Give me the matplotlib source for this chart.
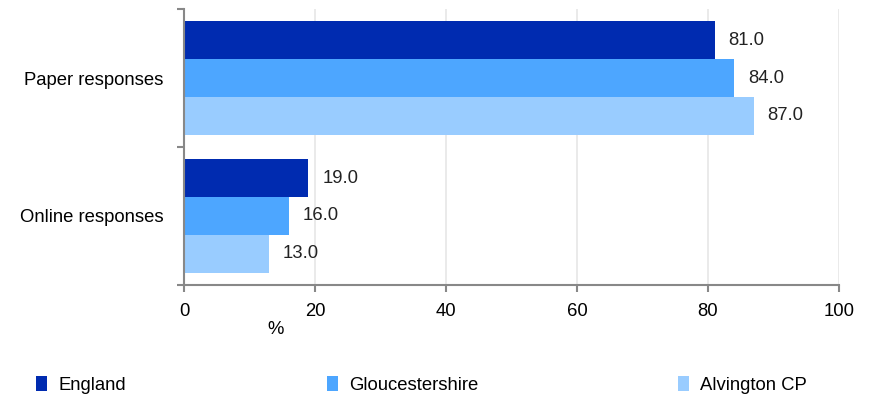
import numpy as np
import matplotlib.pyplot as plt
import matplotlib.ticker as ticker

plt.rcParams['font.family'] = ['Liberation Sans', 'DejaVu Sans']

categories = ['Online responses', 'Paper responses']
series = ['England', 'Gloucestershire', 'Alvington CP']
england = [19.0, 81.0]
gloucestershire = [16.0, 84.0]
alvington = [13.0, 87.0]
colors = ['#002BB0', '#4DA6FF', '#99CCFF']

fs = 13.3
fig = plt.figure(figsize=(8.74, 3.95), dpi=100)
ax = fig.add_axes([0.2105, 0.2785, 0.7494, 0.6987])

y = np.arange(len(categories))
h = 0.273
for i, (name, vals, col) in enumerate(zip(series, [england, gloucestershire, alvington], colors)):
    pos = y + h - i * h
    bars = ax.barh(pos, vals, height=h, color=col, label=name, zorder=2)
    for b, v in zip(bars, vals):
        ax.annotate(f'{v:.1f}', (b.get_width(), b.get_y() + b.get_height() / 2),
                    xytext=(10, 0), textcoords='offset points',
                    va='center', ha='left', fontsize=fs, color='#222222')

ax.set_xlim(0, 100)
ax.set_ylim(-0.5, 1.5)
ax.xaxis.set_major_locator(ticker.MultipleLocator(20))
ax.set_yticks(y)
ax.set_yticklabels(categories, fontsize=fs)
ax.tick_params(axis='y', length=0, pad=15)
ax.yaxis.set_minor_locator(ticker.FixedLocator([-0.5, 0.5, 1.5]))
ax.tick_params(axis='y', which='minor', length=5, color='#888888', width=1.5)
ax.tick_params(axis='x', length=5, color='#888888', width=1.5, labelsize=fs, pad=8)
ax.grid(axis='x', color='#e6e6e6', lw=1.2, zorder=0)
for s in ['top', 'right']:
    ax.spines[s].set_visible(False)
for s in ['left', 'bottom']:
    ax.spines[s].set_color('#888888')
    ax.spines[s].set_linewidth(1.5)

ax.text(14, -0.82, '%', fontsize=fs, ha='center', va='center', transform=ax.transData)

fig.legend(loc='lower left', bbox_to_anchor=(0.0226, -0.04, 0.92, 0.1), mode='expand',
           ncol=3, frameon=False, fontsize=fs, handlelength=0.6, handleheight=0.85,
           handletextpad=0.6)

fig.savefig('out.png', dpi=100)
